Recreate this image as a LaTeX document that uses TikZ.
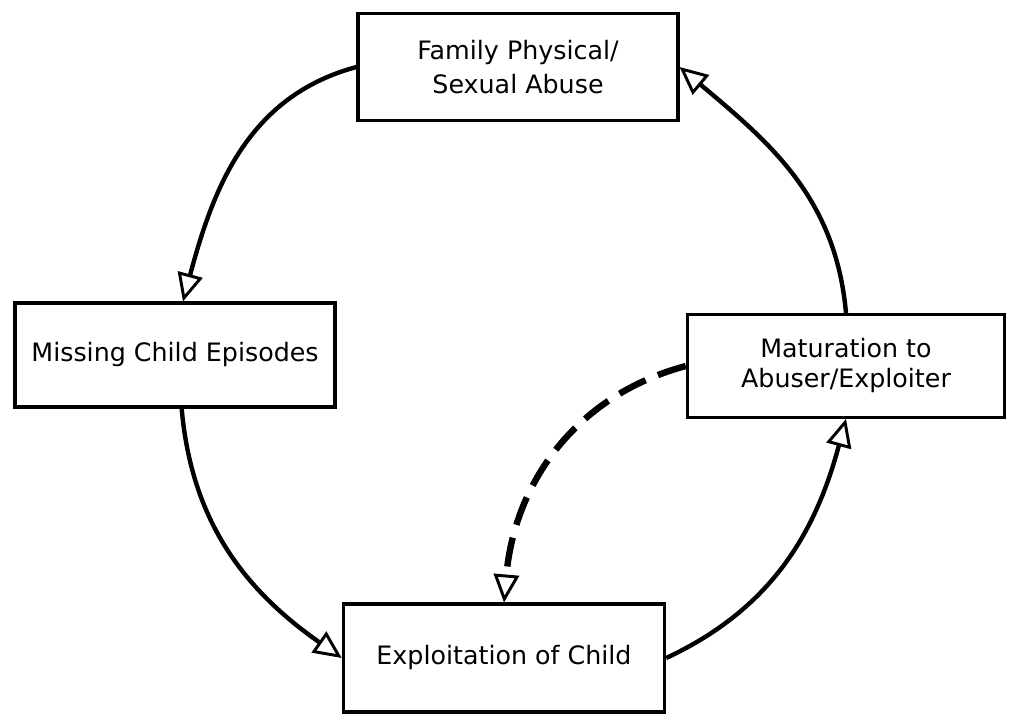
\documentclass[tikz,border=0pt]{standalone}
\usepackage{fontspec}
\setmainfont{DejaVu Sans}
\usetikzlibrary{arrows.meta}
\begin{document}
\begin{tikzpicture}[x=0.75pt,y=-0.75pt,
  box/.style={draw=black,line width=2.3pt,fill=white,align=center,inner sep=0pt,
    font=\fontsize{19}{26}\selectfont},
  flow/.style={line width=3.3pt,-{Triangle[open,length=21pt,width=19pt,line width=2.2pt]}},
  dflow/.style={line width=4.8pt,dash pattern=on 22pt off 10pt,
    -{Triangle[open,length=21pt,width=19pt,line width=2.2pt]}}]
\useasboundingbox (0,0) rectangle (1011,718);
\node[box,minimum width=240pt,minimum height=80pt] (top) at (518,67) {Family Physical/\\Sexual Abuse};
\node[box,minimum width=240pt,minimum height=78pt] (left) at (175,355) {Missing Child Episodes};
\node[box,minimum width=238pt,minimum height=77pt,font=\fontsize{19}{22.5}\selectfont] (right) at (846,366) {Maturation to\\Abuser/Exploiter};
\node[box,minimum width=241pt,minimum height=81pt] (bottom) at (504,658) {Exploitation of Child};
\draw[flow] (top.west) to[out=195,in=75] ([xshift=6pt]left.north);
\draw[flow] ([xshift=5pt]left.south) to[out=-85,in=145] (bottom.west);
\draw[flow] (bottom.east) to[out=25,in=-105] (right.south);
\draw[flow] (right.north) to[out=95,in=-40] (top.east);
\draw[dflow] (right.west) to[out=195,in=85] (bottom.north);
\end{tikzpicture}
\end{document}
